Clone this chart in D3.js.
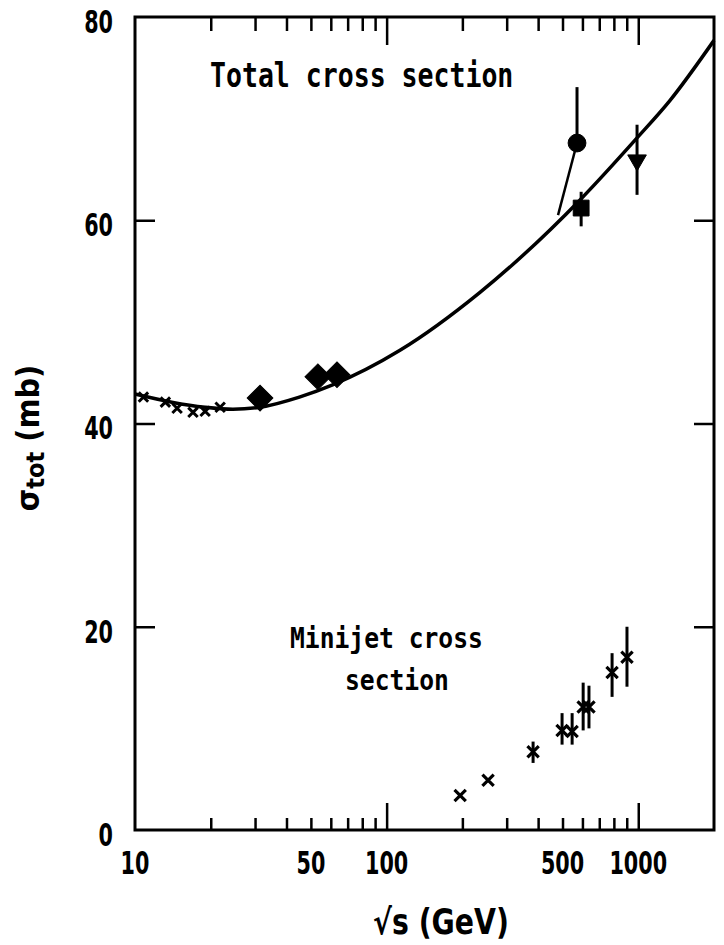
<!DOCTYPE html>
<html>
<head>
<meta charset="utf-8">
<script src="https://cdn.jsdelivr.net/npm/d3@7"></script>
<style>
  body { margin: 0; background: #fff; }
  svg text { font-family: "DejaVu Sans Condensed", "DejaVu Sans", sans-serif; font-stretch: condensed; fill: #000; }
  svg text.mono { font-family: "DejaVu Sans Mono", monospace; font-stretch: normal; }
</style>
</head>
<body>
<svg id="chart" width="724" height="945"></svg>
<script>
// fitted curve
var curveEnergy = [10, 14, 19, 24.5, 31.4, 45, 61, 113, 235, 587, 989, 1338, 2000];
var curveSigma = [42.9, 42.1, 41.6, 41.4, 41.6, 42.6, 43.8, 47.2, 52.9, 62.0, 68.1, 71.8, 77.7];

// low energy total cross section (crosses)
var lowEnergy = [10.8, 13.2, 14.7, 17.0, 19.0, 21.8];
var lowSigma = [42.6, 42.1, 41.5, 41.1, 41.2, 41.6];

// diamonds
var isrEnergy = [31.4, 53.3, 63.5];
var isrSigma = [42.5, 44.6, 44.8];

// collider points: circle, square, triangle
var circleEnergy = [571], circleSigma = [67.6], circleHigh = [73.1];
var circleTailEnergy = [480], circleTailSigma = [60.5];
var squareEnergy = [593], squareSigma = [61.2], squareHigh = [62.8], squareLow = [59.4];
var triEnergy = [989], triSigma = [65.9], triHigh = [69.4], triLow = [62.5];

// minijet cross section
var jetEnergy = [196, 253, 382, 498, 546, 604, 637, 787, 902];
var jetSigma = [3.4, 4.9, 7.7, 9.8, 9.7, 12.1, 12.1, 15.5, 17.0];
var jetHigh = [null, null, 8.7, 11.5, 11.5, 14.5, 14.2, 17.4, 20.0];
var jetLow = [null, null, 6.6, 8.4, 8.4, 9.8, 10.0, 13.1, 14.1];

var xMinor = [20, 30, 40, 50, 60, 70, 80, 90, 200, 300, 400, 500, 600, 700, 800, 900];
var xMajor = [100, 1000];
var xLabels = [10, 50, 100, 500, 1000];
var yTicks = [20, 40, 60];
var yLabels = [0, 20, 40, 60, 80];

var svg = d3.select("#chart");

var x = d3.scaleLog().domain([10, 2000]).range([135, 714]);
var y = d3.scaleLinear().domain([0, 80]).range([830, 17]);

function squeezedText(px, py, str, size, weight, anchor, sx, cls) {
	var g = svg.append("g").attr("transform", "translate(" + px + "," + py + ") scale(" + sx + ",1)");
	return g.append("text")
		.attr("class", cls || null)
		.attr("text-anchor", anchor)
		.attr("dominant-baseline", "central")
		.style("font-size", size + "px")
		.style("font-weight", weight)
		.text(str);
}

// frame
svg.append("rect")
	.attr("x", x(10))
	.attr("y", y(80))
	.attr("width", x(2000) - x(10))
	.attr("height", y(0) - y(80))
	.attr("fill", "none")
	.attr("stroke", "#000")
	.attr("stroke-width", 3);

function tickAxis(axis, tx, ty) {
	var g = svg.append("g").attr("transform", "translate(" + tx + "," + ty + ")").call(axis);
	g.select(".domain").remove();
	g.selectAll("line").attr("stroke", "#000").attr("stroke-width", 2.5);
	g.selectAll("text").remove();
}

tickAxis(d3.axisBottom(x).tickValues(xMinor).tickSize(-12), 0, y(0));
tickAxis(d3.axisBottom(x).tickValues(xMajor).tickSize(-27), 0, y(0));
tickAxis(d3.axisTop(x).tickValues(xMinor).tickSize(-14), 0, y(80));
tickAxis(d3.axisTop(x).tickValues(xMajor).tickSize(-28), 0, y(80));
tickAxis(d3.axisLeft(y).tickValues(yTicks).tickSize(-20), x(10), 0);
tickAxis(d3.axisRight(y).tickValues(yTicks).tickSize(-20), x(2000), 0);

xLabels.forEach(function(v) {
	squeezedText(x(v), 863, String(v), 32, "bold", "middle", 0.72);
});
yLabels.forEach(function(v) {
	squeezedText(113, y(v) + 5, String(v), 32, "bold", "end", 0.72);
});

// axis titles
squeezedText(441, 922, "\u221As  (GeV)", 35, "bold", "middle", 0.9);

var yg = svg.append("g").attr("transform", "translate(28,438) rotate(-90)");
var yt = yg.append("text")
	.attr("text-anchor", "middle")
	.attr("dominant-baseline", "central")
	.style("font-size", "32px")
	.style("font-weight", "bold");
yt.append("tspan").text("\u03C3");
yt.append("tspan").attr("dy", 7).style("font-size", "25px").text("tot");
yt.append("tspan").attr("dy", -7).text("  (mb)");

// fitted curve
var curvePts = curveEnergy.map(function(e, i) { return [e, curveSigma[i]]; });
svg.append("path")
	.datum(curvePts)
	.attr("fill", "none")
	.attr("stroke", "#000")
	.attr("stroke-width", 3.5)
	.attr("d", d3.line()
		.x(function(d) { return x(d[0]); })
		.y(function(d) { return y(d[1]); })
		.curve(d3.curveMonotoneX));

// error bars
function errorBars(energy, high, low) {
	energy.forEach(function(e, i) {
		if (high[i] == null) return;
		svg.append("line")
			.attr("x1", x(e)).attr("x2", x(e))
			.attr("y1", y(high[i])).attr("y2", y(low[i]))
			.attr("stroke", "#000")
			.attr("stroke-width", 3);
	});
}

errorBars(squareEnergy, squareHigh, squareLow);
errorBars(triEnergy, triHigh, triLow);
errorBars(circleEnergy, circleHigh, circleSigma);
errorBars(jetEnergy, jetHigh, jetLow);

// slanted tail under the circle
svg.append("line")
	.attr("x1", x(circleEnergy[0])).attr("y1", y(circleSigma[0]))
	.attr("x2", x(circleTailEnergy[0])).attr("y2", y(circleTailSigma[0]))
	.attr("stroke", "#000")
	.attr("stroke-width", 2.5);

function markers(energy, sigma, type, size, rotate, filled, width) {
	energy.forEach(function(e, i) {
		svg.append("path")
			.attr("transform", "translate(" + x(e) + "," + y(sigma[i]) + ") rotate(" + rotate + ")")
			.attr("d", d3.symbol().type(type).size(size)())
			.attr("fill", filled ? "#000" : "none")
			.attr("stroke", "#000")
			.attr("stroke-width", width);
	});
}

markers(lowEnergy, lowSigma, d3.symbolX, 60, 0, false, 3);
markers(isrEnergy, isrSigma, d3.symbolSquare, 330, 45, true, 1);
markers(circleEnergy, circleSigma, d3.symbolCircle, 250, 0, true, 1);
markers(squareEnergy, squareSigma, d3.symbolSquare, 250, 0, true, 1);
markers(triEnergy, triSigma, d3.symbolTriangle, 150, 180, true, 1);
markers(jetEnergy, jetSigma, d3.symbolX, 85, 0, false, 3.2);

// annotations
squeezedText(210, 75, "Total cross section", 34, "bold", "start", 0.78, "mono");
squeezedText(290, 638, "Minijet cross", 29, "bold", "start", 0.85, "mono");
squeezedText(345, 680, "section", 29, "bold", "start", 0.85, "mono");
</script>
</body>
</html>
